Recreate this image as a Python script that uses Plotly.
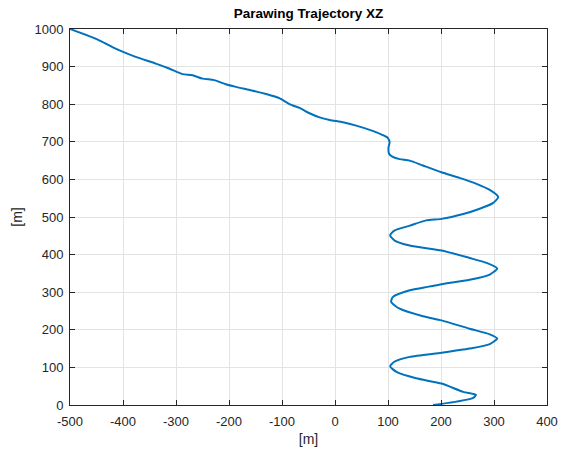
import plotly.graph_objects as go

# Trajectory points (x [m], z [m])
x_vals = [-500, -464, -439, -420, -401, -376, -338, -313, -288, -269, -250, -228, -206, -187,
          -155, -130, -105, -86, -67, -48, -29, -10, 15, 40, 71, 90, 100, 103, 101, 102, 109, 122,
          141, 166, 201, 235, 267, 292, 308, 298, 273, 242, 201, 172, 141, 112, 104, 112, 141,
          201, 254, 286, 306, 292, 254, 201, 141, 109, 106, 122, 166, 201, 254, 292, 306, 292,
          254, 201, 141, 112, 104, 116, 153, 201, 242, 266, 260, 229, 185]
z_vals = [1000, 981, 966, 952, 940, 926, 908, 895, 880, 877, 868, 864, 853, 846,
          836, 827, 816, 800, 790, 776, 765, 758, 752, 743, 729, 718, 710, 698, 685, 668, 660, 654,
          650, 637, 619, 604, 588, 572, 553, 537, 522, 508, 495, 491, 477, 464, 451, 438, 424,
          411, 391, 378, 363, 347, 333, 321, 305, 287, 274, 256, 236, 225, 203, 188, 177, 162,
          150, 139, 128, 115, 103, 88, 71, 57, 35, 27, 18, 9, 0]

x_ticks = [-500, -400, -300, -200, -100, 0, 100, 200, 300, 400]
x_labels = ["-500", "-400", "-300", "-200", "-100", "0", "100", "200", "300", "400"]
y_ticks = [0, 100, 200, 300, 400, 500, 600, 700, 800, 900, 1000]
y_labels = ["0", "100", "200", "300", "400", "500", "600", "700", "800", "900", "1000"]

FONT = "Liberation Sans, Arial, Helvetica"

fig = go.Figure()
fig.add_trace(go.Scatter(x=x_vals, y=z_vals, mode="lines",
                         line=dict(color="#0072BD", width=2, shape="spline", smoothing=0.6),
                         showlegend=False))

axis_common = dict(showgrid=True, gridcolor="#e3e3e3", gridwidth=1,
                   showline=True, linecolor="#262626", linewidth=1, mirror="ticks",
                   ticks="inside", ticklen=5, tickcolor="#262626", zeroline=False,
                   automargin=False,
                   tickfont=dict(family=FONT, size=13, color="#262626"))

fig.update_layout(
    width=561, height=452,
    margin=dict(l=70, r=14, t=29, b=47),
    paper_bgcolor="white", plot_bgcolor="white",
    title=dict(text="<b>Parawing Trajectory XZ</b>", x=0.5, xref="paper", xanchor="center",
               y=1, yref="paper", yanchor="bottom", pad=dict(b=11),
               font=dict(family=FONT, size=13.5, color="black")),
    xaxis=dict(range=[-500, 400], tickvals=x_ticks, ticktext=x_labels, ticklabelstandoff=4,
               title=dict(text="[m]", standoff=6,
                          font=dict(family=FONT, size=14, color="#262626")),
               **axis_common),
    yaxis=dict(range=[0, 1000], tickvals=y_ticks, ticktext=y_labels, ticklabelstandoff=3,
               title=dict(text="[m]", standoff=8,
                          font=dict(family=FONT, size=14, color="#262626")),
               **axis_common),
)

fig.write_html("out.html")
